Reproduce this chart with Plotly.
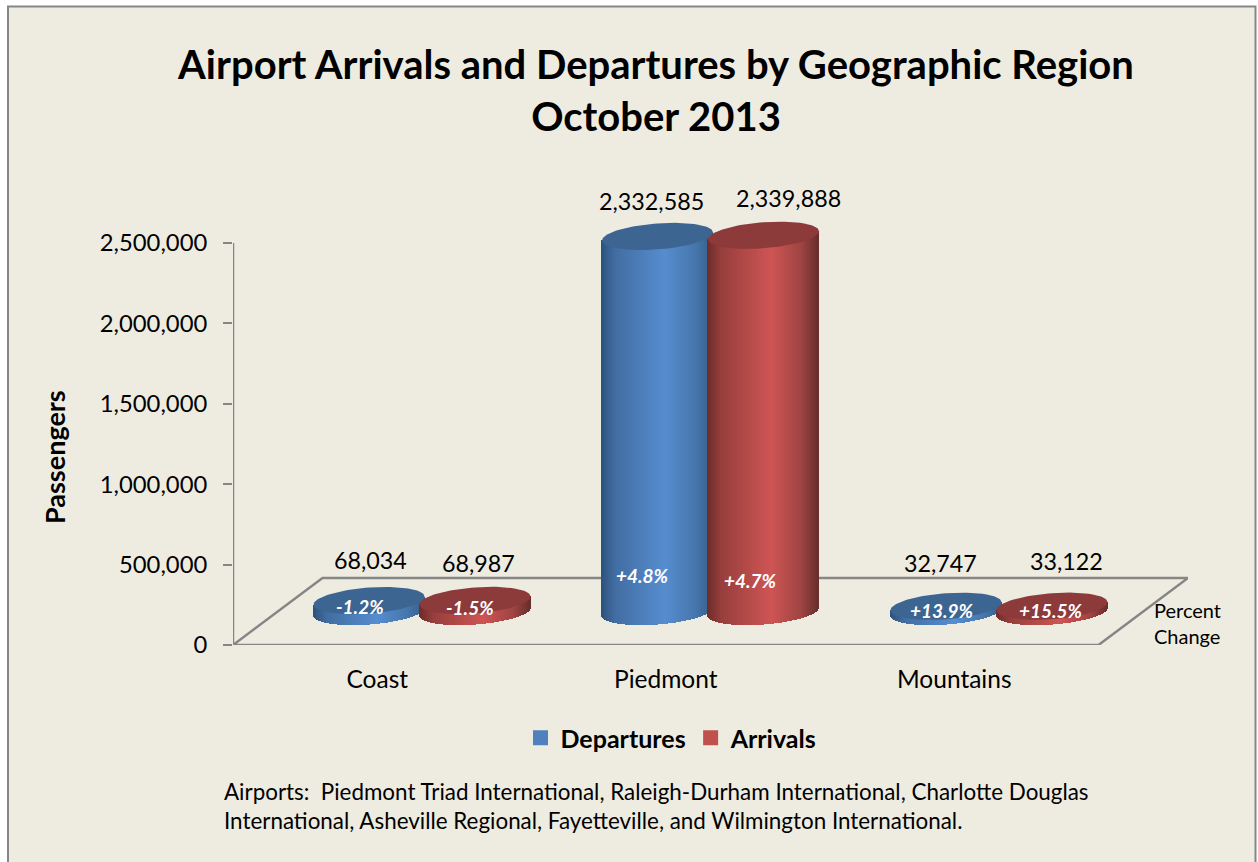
import numpy as np
import plotly.graph_objects as go

# ---- data ----
regions = ["Coast", "Piedmont", "Mountains"]
departures = [68034, 2332585, 32747]
arrivals = [68987, 2339888, 33122]
dep_change = ["-1.2%", "+4.8%", "+13.9%"]
arr_change = ["-1.5%", "+4.7%", "+15.5%"]
y_ticks = [0, 500000, 1000000, 1500000, 2000000, 2500000]

# ---- page geometry ----
W, H = 1258, 862
L, R, T, B = 233, 1188, 243, 645
HEADROOM_TOP = 205            # plot area runs above the top tick so the cylinders' caps are not clipped
FONT = "Lato"
GREY = "#868686"
BG = "#EEECE1"
YMAX = 2500000
CAT_PX = 288.5
VAL_PER_PX = YMAX / (B - T)
YTOP = (B - HEADROOM_TOP) * VAL_PER_PX
XMIN = -0.5
XMAX = XMIN + (R - L) / CAT_PX

# 3-D look: floor depth and cylinder proportions, in pixels
DEPTH_X, DEPTH_Y = 89.5, 67
RX, RY, SHEAR = 55.5, 13, 4
BASE_PX = 33.5
HALF_GAP = 53
base_val = BASE_PX * VAL_PER_PX
ry_val = RY * VAL_PER_PX
shear_val = SHEAR * VAL_PER_PX


def shade(stops, u):
    """Colour across the cylinder, u in [-1, 1]."""
    pos = [-1, -0.75, 0.15, 0.7, 1]
    rgb = [np.interp(u, pos, [s[i] for s in stops]) for i in range(3)]
    return "rgb(%d,%d,%d)" % tuple(int(round(c)) for c in rgb)


BLUE = [(44, 82, 124), (66, 109, 162), (86, 141, 207), (70, 118, 172), (54, 94, 140)]
RED = [(108, 44, 42), (150, 62, 60), (206, 85, 84), (158, 68, 66), (104, 46, 44)]
BLUE_CAP, RED_CAP = "#3C6592", "#8C3A3A"
BLUE_KEY, RED_KEY = "#4F81BD", "#C0504D"


def cyl_center(i, side):
    return i + (DEPTH_X / 2 + side * HALF_GAP) / CAT_PX


def strips(values, side, stops):
    xs, bases, heights, colors = [], [], [], []
    n = int(2 * RX)
    for i, v in enumerate(values):
        c = cyl_center(i, side)
        for k in range(n):
            u = (k + 0.5) / n * 2 - 1
            low = base_val + shear_val * u - ry_val * np.sqrt(1 - u * u)
            top = base_val + v + shear_val * u
            xs.append(c + u * RX / CAT_PX)
            bases.append(low)
            heights.append(top - low)
            colors.append(shade(stops, u))
    return xs, bases, heights, colors


fig = go.Figure()
t = np.linspace(0, 2 * np.pi, 97)

for name, values, side, stops, cap in [
    ("Departures", departures, -1, BLUE, BLUE_CAP),
    ("Arrivals", arrivals, 1, RED, RED_CAP),
]:
    xs, bases, heights, colors = strips(values, side, stops)
    fig.add_trace(go.Bar(x=xs, y=heights, base=bases, width=1.02 / CAT_PX,
                         marker=dict(color=colors, line=dict(width=0)),
                         showlegend=False, hoverinfo="skip", name=name, cliponaxis=False))

for name, values, side, stops, cap in [
    ("Departures", departures, -1, BLUE, BLUE_CAP),
    ("Arrivals", arrivals, 1, RED, RED_CAP),
]:
    for i, v in enumerate(values):
        c = cyl_center(i, side)
        fig.add_trace(go.Scatter(
            x=c + np.cos(t) * RX / CAT_PX,
            y=base_val + v + shear_val * np.cos(t) + ry_val * np.sin(t),
            mode="lines", fill="toself", fillcolor=cap, line=dict(width=0, color=cap),
            showlegend=False, hoverinfo="skip", cliponaxis=False))

for name, key in [("Departures", BLUE_KEY), ("Arrivals", RED_KEY)]:
    fig.add_trace(go.Scatter(x=[None], y=[None], mode="markers", name=f"<b>{name}</b>",
                             marker=dict(symbol="square", size=15, color=key)))

annotations = []
# value labels: pixel nudges relative to the top of each cylinder
value_nudge = {-1: [(1.5, 41), (-6, 35), (-6, 43)], 1: [(3.5, 37), (24.5, 37), (14, 45)]}
pct_nudge = {-1: [(-9.5, 5.5), (-15, 36), (-3.7, 0.8)], 1: [(-5.5, 4.5), (-13, 31.5), (-0.7, 0.8)]}
for values, labels, side in [(departures, dep_change, -1), (arrivals, arr_change, 1)]:
    for i, v in enumerate(values):
        c = cyl_center(i, side)
        annotations.append(dict(
            x=c, y=base_val + v, xref="x", yref="y", text=f"{v:,}", showarrow=False,
            xshift=value_nudge[side][i][0], yshift=value_nudge[side][i][1],
            font=dict(family=FONT, size=23.3, color="#000000")))
        annotations.append(dict(
            x=c, y=base_val, xref="x", yref="y", text=f"<b><i>{labels[i]}</i></b>", showarrow=False,
            xshift=pct_nudge[side][i][0], yshift=pct_nudge[side][i][1],
            font=dict(family=FONT, size=19, color="#FFFFFF")))

annotations.append(dict(x=1151.5 / W, y=1 - 623 / H, xref="paper", yref="paper", xanchor="left",
                        yanchor="middle", align="left", showarrow=False,
                        text="Percent<br>Change", font=dict(family=FONT, size=20, color="#000000")))
annotations.append(dict(x=222 / W, y=1 - 806 / H, xref="paper", yref="paper", xanchor="left",
                        yanchor="middle", align="left", showarrow=False,
                        text="Airports:&nbsp;&nbsp;Piedmont Triad International, Raleigh-Durham International, Charlotte Douglas<br>"
                             "International, Asheville Regional, Fayetteville, and Wilmington International.",
                        font=dict(family=FONT, size=22.4, color="#000000")))
annotations.append(dict(x=54 / W, y=1 - 457 / H, xref="paper", yref="paper", xanchor="center",
                        yanchor="middle", showarrow=False, textangle=-90, text="<b>Passengers</b>",
                        font=dict(family=FONT, size=27, color="#000000")))

shapes = [
    dict(type="rect", xref="paper", yref="paper", x0=8 / W, x1=1255.5 / W, y0=-0.02, y1=1 - 6.5 / H,
         fillcolor=BG, line=dict(color=GREY, width=2), layer="below"),
    dict(type="path", xref="x", yref="y", layer="below", line=dict(color=GREY, width=2.5),
         path=(f"M {XMIN},0 L {XMIN + len(regions)},0 "
               f"L {XMIN + len(regions) + DEPTH_X / CAT_PX},{DEPTH_Y * VAL_PER_PX} "
               f"L {XMIN + DEPTH_X / CAT_PX},{DEPTH_Y * VAL_PER_PX} Z")),
    dict(type="line", xref="x", yref="y", layer="below", line=dict(color=GREY, width=2.5),
         x0=XMIN, x1=XMIN, y0=0, y1=YMAX),
]

fig.update_layout(
    width=W, height=H, margin=dict(l=0, r=0, t=0, b=0, autoexpand=False), autosize=False,
    paper_bgcolor="#FFFFFF", plot_bgcolor="rgba(0,0,0,0)",
    barmode="overlay", bargap=0,
    font=dict(family=FONT, color="#000000"),
    title=dict(text="<b>Airport Arrivals and Departures by Geographic Region<br>October 2013</b>",
               x=656 / W, xanchor="center", y=1 - 79 / H, yanchor="middle", yref="container",
               font=dict(family=FONT, size=40, color="#000000")),
    xaxis=dict(domain=[L / W, R / W], range=[XMIN, XMAX], tickmode="array",
               tickvals=list(range(len(regions))), ticktext=regions, showgrid=False,
               zeroline=False, showline=False, ticks="", ticklabelstandoff=17,
               tickfont=dict(family=FONT, size=24.5, color="#000000")),
    yaxis=dict(domain=[1 - B / H, 1 - HEADROOM_TOP / H], range=[0, YTOP], tickmode="array",
               tickvals=y_ticks, ticktext=[f"{v:,}" for v in y_ticks], showgrid=False, zeroline=False,
               showline=False, ticks="outside", ticklen=9, tickwidth=2, ticklabelstandoff=11,
               tickcolor=GREY, tickfont=dict(family=FONT, size=23.8, color="#000000")),
    legend=dict(orientation="h", xref="container", yref="container", x=520.5 / W, y=1 - 738 / H,
                xanchor="left", yanchor="middle", bgcolor="rgba(0,0,0,0)",
                font=dict(family=FONT, size=25, color="#000000"), itemsizing="trace", itemclick=False),
    annotations=annotations, shapes=shapes,
)

fig.write_html("out.html", config=dict(displayModeBar=False),
               post_script="document.body.style.margin='0';document.documentElement.style.overflow='hidden';")
